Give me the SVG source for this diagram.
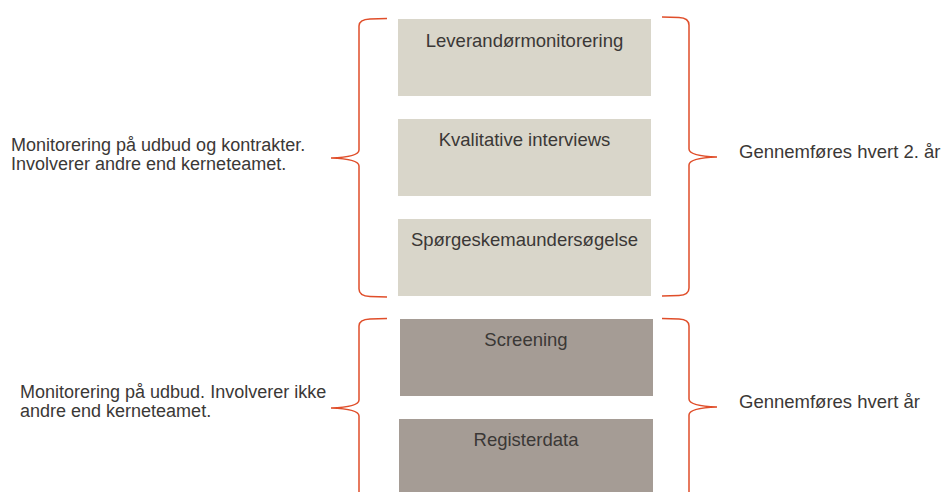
<svg xmlns="http://www.w3.org/2000/svg" width="944" height="492" viewBox="0 0 944 492">
<style>
.t{font-family:"Liberation Sans",Arial,sans-serif;font-size:18.5px;fill:#3b3836}
.s{font-size:18px}
.c{text-anchor:middle}
.l{fill:#d9d6ca}
.d{fill:#a59c95}
.b{fill:none;stroke:#e04e2a;stroke-width:1.5}
</style>
<rect width="944" height="492" fill="#fff"/>
<g id="leverandor"><rect class="l" x="398" y="19" width="253" height="77"/><text class="t c" x="524.5" y="47">Leverandørmonitorering</text></g>
<g id="kvalitative"><rect class="l" x="398" y="119" width="253" height="77"/><text class="t c" x="524.5" y="146">Kvalitative interviews</text></g>
<g id="sporgeskema"><rect class="l" x="398" y="219" width="253" height="77"/><text class="t c" x="524.5" y="246">Spørgeskemaundersøgelse</text></g>
<g id="screening"><rect class="d" x="400" y="319" width="253" height="77"/><text class="t c" x="526" y="346">Screening</text></g>
<g id="registerdata"><rect class="d" x="399" y="419" width="254" height="80"/><text class="t c" x="526" y="446">Registerdata</text></g>
<g id="connectors">
<path class="b" d="M387,18.5 L370,19 Q359,19.5 359,26 L359,150 Q359,157 331,158 Q359,159 359,166 L359,289 Q359,296 370,296.5 L387,297"/>
<path class="b" d="M662,17 L679,17.5 Q689,18 689,25 L689,149 Q689,156 717,157 Q689,158 689,165 L689,288 Q689,295 679,295.5 L662,296"/>
<path class="b" d="M387,318.5 L370,319 Q359,319.5 359,326 L359,400 Q359,407 331,408 Q359,409 359,416 L359,500"/>
<path class="b" d="M662,318.5 L679,319 Q689,319.5 689,326 L689,399 Q689,406 717,407 Q689,408 689,415 L689,500"/>
</g>
<g id="labels">
<text class="t s" x="11" y="150.5">Monitorering på udbud og kontrakter.</text>
<text class="t s" x="11" y="170">Involverer andre end kerneteamet.</text>
<text class="t s" x="20" y="397.5">Monitorering på udbud. Involverer ikke</text>
<text class="t s" x="20" y="417">andre end kerneteamet.</text>
<text class="t" x="739" y="158">Gennemføres hvert 2. år</text>
<text class="t" x="739" y="408">Gennemføres hvert år</text>
</g>
</svg>
